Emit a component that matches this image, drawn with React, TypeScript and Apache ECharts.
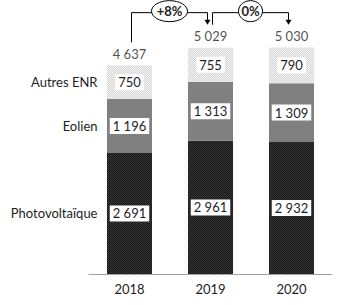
import React, { useEffect, useRef } from "react";
import * as echarts from "echarts";

const years = ["2018", "2019", "2020"];
const seriesNames = ["Photovoltaïque", "Eolien", "Autres ENR"];
const photovoltaique = [2691, 2961, 2932];
const eolien = [1196, 1313, 1309];
const autres = [750, 755, 790];
const totals = [4637, 5029, 5030];

const FONT = "Lato";
const TEXT = "#1e1e1e";

const fmt = (v: number) => String(v).replace(/\B(?=(\d{3})+(?!\d))/g, " ");

function makePattern(a: string, b: string) {
  const c = document.createElement("canvas");
  c.width = 4;
  c.height = 4;
  const ctx = c.getContext("2d")!;
  for (let y = 0; y < 4; y++)
    for (let x = 0; x < 4; x++) {
      ctx.fillStyle = (x + y) % 2 === 0 ? a : b;
      ctx.fillRect(x, y, 1, 1);
    }
  return { image: c.toDataURL(), repeat: "repeat", imageWidth: 4, imageHeight: 4 } as any;
}

export default function App() {
  const ref = useRef<HTMLDivElement>(null);
  useEffect(() => {
    const chart = echarts.init(ref.current!, null, { renderer: "svg" });
    const data = [photovoltaique, eolien, autres];
    const colors = [
      makePattern("#141414", "#3a3a3a"),
      "#808080",
      makePattern("#f7f7f7", "#d2d2d2"),
    ];
    const barSeries = data.map((vals, k) => {
      let below = 0;
      for (let j = 0; j < k; j++) below += data[j][0];
      return {
        type: "bar",
        name: seriesNames[k],
        stack: "total",
        barWidth: 45,
        data: vals,
        itemStyle: { color: colors[k] },
        label: {
          show: true,
          position: "inside",
          backgroundColor: "#fff",
          padding: [2, 3, 1, 3],
          color: TEXT,
          fontFamily: FONT,
          fontSize: 13,
          formatter: (p: any) => fmt(p.value),
        },
        markPoint: {
          symbol: "circle",
          symbolSize: 0,
          silent: true,
          data: [{ coord: [0, below + vals[0] / 2], value: seriesNames[k] }],
          label: {
            show: true,
            position: "left",
            distance: 32,
            color: TEXT,
            fontFamily: FONT,
            fontSize: 13,
            formatter: () => seriesNames[k],
          },
        },
      };
    });
    const option: any = {
      animation: false,
      grid: { left: 89, right: 6, top: 4, bottom: 31 },
      xAxis: {
        type: "category",
        data: years,
        axisLine: { lineStyle: { color: "#a0a0a0", width: 1 } },
        axisTick: { show: false },
        axisLabel: { color: TEXT, fontFamily: FONT, fontSize: 13, margin: 8 },
      },
      yAxis: { type: "value", min: 0, max: 6000, show: false, splitLine: { show: false } },
      series: [
        ...barSeries,
        {
          type: "scatter",
          data: totals,
          symbolSize: 0,
          silent: true,
          label: {
            show: true,
            position: "top",
            distance: 5,
            color: TEXT,
            fontFamily: FONT,
            fontSize: 13,
            formatter: (p: any) => fmt(p.value),
          },
        },
      ],
    };
    chart.setOption(option);

    const pts = totals.map((t, i) => chart.convertToPixel({ gridIndex: 0 }, [i, t]) as number[]);
    const hY = Math.min(...pts.map((p) => p[1])) - 35;
    const graphics: any[] = [];
    for (let i = 0; i < totals.length - 1; i++) {
      const x0 = pts[i][0] + 2;
      const x1 = pts[i + 1][0] - 3;
      const y0 = pts[i][1] - 23;
      const tip = pts[i + 1][1] - 23;
      const pct = Math.round((totals[i + 1] / totals[i] - 1) * 100);
      const txt = (pct > 0 ? "+" : "") + pct + "%";
      const rx = txt.length > 2 ? 18 : 12;
      graphics.push({
        type: "polyline",
        shape: { points: [[x0, y0], [x0, hY], [x1, hY], [x1, tip - 4]] },
        style: { stroke: "#000", lineWidth: 1, fill: null },
        silent: true,
      });
      graphics.push({
        type: "polygon",
        shape: { points: [[x1 - 3, tip - 5], [x1 + 3, tip - 5], [x1, tip]] },
        style: { fill: "#000" },
        silent: true,
      });
      graphics.push({
        type: "ellipse",
        shape: { cx: (x0 + x1) / 2, cy: hY - 1.5, rx, ry: 10.5 },
        style: { fill: "#fff", stroke: "#000", lineWidth: 1 },
        silent: true,
      });
      graphics.push({
        type: "text",
        x: (x0 + x1) / 2,
        y: hY - 1.5,
        style: {
          text: txt,
          align: "center",
          verticalAlign: "middle",
          fill: TEXT,
          font: `bold 13px ${FONT}`,
        },
        silent: true,
      });
    }
    chart.setOption({ graphic: graphics });
    return () => chart.dispose();
  }, []);
  return (
    <div
      ref={ref}
      style={{ position: "fixed", left: 0, top: 0, width: 338, height: 305, background: "#fff" }}
    />
  );
}
